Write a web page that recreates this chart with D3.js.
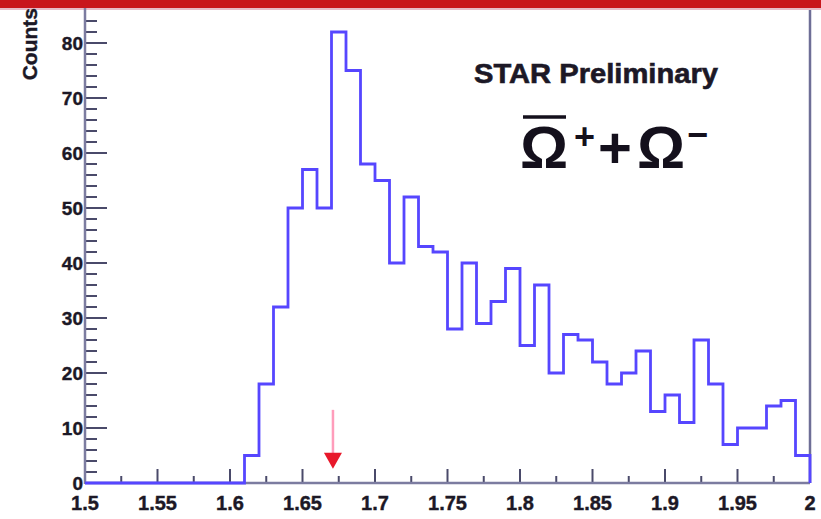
<!DOCTYPE html>
<html>
<head>
<meta charset="utf-8">
<script src="https://cdn.jsdelivr.net/npm/d3@7"></script>
<style>
  html, body { margin: 0; padding: 0; background: #ffffff; }
  svg { display: block; }
</style>
</head>
<body>
<script>
// ---- data ----
const binLow = d3.range(50).map(i => +(1.5 + i * 0.01).toFixed(2));
const counts = [0,0,0,0,0,0,0,0,0,0,0,
  5,18,32,50,57,50,82,75,58,55,
  40,52,43,42,28,40,29,33,39,25,
  36,20,27,26,22,18,20,24,13,16,
  11,26,18,7,10,10,14,15,5];
const binWidth = 0.01;
const xTickValues = [1.5,1.55,1.6,1.65,1.7,1.75,1.8,1.85,1.9,1.95,2];
const xTickLabels = ["1.5","1.55","1.6","1.65","1.7","1.75","1.8","1.85","1.9","1.95","2"];
const yTickValues = [0,10,20,30,40,50,60,70,80];
const arrowX = 1.671;
const arrowFrom = 13.3;
const arrowTo = 2.6;

const W = 821, H = 519;
const svg = d3.select("body").append("svg").attr("width", W).attr("height", H);

const x = d3.scaleLinear().domain([1.5, 2.0]).range([85, 810]);
const y = d3.scaleLinear().domain([0, 86]).range([483, 10]);

// top red band
svg.append("rect").attr("x", 0).attr("y", 0).attr("width", W).attr("height", 8).attr("fill", "#c8161c");
svg.append("line").attr("x1", 0).attr("x2", W).attr("y1", 9).attr("y2", 9)
  .attr("stroke", "#e6bcc8").attr("stroke-width", 2);

const axisCol = "#7c7ca0";
const tickCol = "#4a4a6a";
const font = "'Liberation Sans', Arial, Helvetica, sans-serif";
const txtCol = "#1c1826";

// right frame
svg.append("line").attr("x1", x(2.0)).attr("x2", x(2.0)).attr("y1", 10).attr("y2", y(0))
  .attr("stroke", "#6e6e96").attr("stroke-width", 2.5);

// y minor ticks (inward)
const yMinor = d3.range(0, 86, 2).filter(v => v % 10 !== 0);
svg.selectAll(".ymin").data(yMinor).join("line")
  .attr("x1", x(1.5)).attr("x2", x(1.5) + 12)
  .attr("y1", d => y(d)).attr("y2", d => y(d))
  .attr("stroke", tickCol).attr("stroke-width", 2);
svg.selectAll(".ymaj").data(yTickValues).join("line")
  .attr("x1", x(1.5)).attr("x2", x(1.5) + 22)
  .attr("y1", d => y(d)).attr("y2", d => y(d))
  .attr("stroke", tickCol).attr("stroke-width", 2);
svg.selectAll(".ylab").data(yTickValues).join("text")
  .attr("x", 83).attr("y", d => y(d)).attr("dy", "0.36em")
  .attr("text-anchor", "end")
  .attr("font-family", font).attr("font-weight", "bold").attr("font-size", 19)
  .attr("fill", txtCol).attr("stroke", txtCol).attr("stroke-width", 0.4)
  .text(d => d);

// x ticks (inward, upward)
const xMinor = d3.range(0, 10).map(i => 1.525 + i * 0.05);
svg.selectAll(".xmin").data(xMinor).join("line")
  .attr("x1", d => x(d)).attr("x2", d => x(d))
  .attr("y1", y(0)).attr("y2", y(0) - 7)
  .attr("stroke", tickCol).attr("stroke-width", 2);
svg.selectAll(".xmaj").data(xTickValues).join("line")
  .attr("x1", d => x(d)).attr("x2", d => x(d))
  .attr("y1", y(0)).attr("y2", y(0) - 14)
  .attr("stroke", tickCol).attr("stroke-width", 2);
svg.selectAll(".xlab").data(xTickValues).join("text")
  .attr("x", d => x(d)).attr("y", 510)
  .attr("text-anchor", "middle")
  .attr("font-family", font).attr("font-weight", "bold").attr("font-size", 20)
  .attr("fill", txtCol).attr("stroke", txtCol).attr("stroke-width", 0.4)
  .text((d, i) => xTickLabels[i]);

// axes lines
svg.append("line").attr("x1", x(1.5)).attr("x2", x(1.5)).attr("y1", 8).attr("y2", y(0) + 1)
  .attr("stroke", axisCol).attr("stroke-width", 2.5);
svg.append("line").attr("x1", x(1.5)).attr("x2", x(2.0)).attr("y1", y(0)).attr("y2", y(0))
  .attr("stroke", axisCol).attr("stroke-width", 2.5);

// y title
svg.append("text")
  .attr("transform", "translate(37,8) rotate(-90)")
  .attr("text-anchor", "end")
  .attr("font-family", font).attr("font-weight", "bold").attr("font-size", 21)
  .attr("fill", txtCol).attr("stroke", txtCol).attr("stroke-width", 0.4)
  .text("Counts");

// histogram outline
const pts = [];
binLow.forEach((lo, i) => {
  pts.push([lo, counts[i]]);
  pts.push([lo + binWidth, counts[i]]);
});
pts.push([2.0, 0]);
const line = d3.line().x(d => x(d[0])).y(d => y(d[1]));
svg.append("path").attr("d", line(pts))
  .attr("fill", "none").attr("stroke", "#5646ff").attr("stroke-width", 2.8)
  .attr("stroke-linejoin", "miter");

// arrow
svg.append("line").attr("x1", x(arrowX)).attr("x2", x(arrowX))
  .attr("y1", y(arrowFrom)).attr("y2", y(arrowTo) - 10)
  .attr("stroke", "#ff9dbb").attr("stroke-width", 2.5);
const ax = x(arrowX), ay = y(arrowTo);
svg.append("path")
  .attr("d", `M${ax - 9},${ay - 16} L${ax + 9},${ay - 16} L${ax},${ay} Z`)
  .attr("fill", "#e8182a");

// annotations
svg.append("text").attr("x", 474).attr("y", 83)
  .attr("font-family", font).attr("font-weight", "bold").attr("font-size", 27)
  .attr("textLength", 244).attr("lengthAdjust", "spacingAndGlyphs")
  .attr("fill", txtCol).attr("stroke", txtCol).attr("stroke-width", 0.6)
  .text("STAR Preliminary");

const omg = svg.append("g").attr("fill", "#14101c").attr("font-family", font).attr("font-weight", "bold");
omg.append("text").attr("x", 520).attr("y", 168).attr("font-size", 60).text("Ω");
omg.append("line").attr("x1", 523).attr("x2", 566).attr("y1", 117).attr("y2", 117)
  .attr("stroke", "#14101c").attr("stroke-width", 3.5);
omg.append("text").attr("x", 574).attr("y", 149).attr("font-size", 36).text("+");
omg.append("text").attr("x", 598).attr("y", 168).attr("font-size", 58).text("+");
omg.append("text").attr("x", 637).attr("y", 168).attr("font-size", 60).text("Ω");
omg.append("text").attr("x", 687).attr("y", 147).attr("font-size", 36).text("−");
</script>
</body>
</html>
